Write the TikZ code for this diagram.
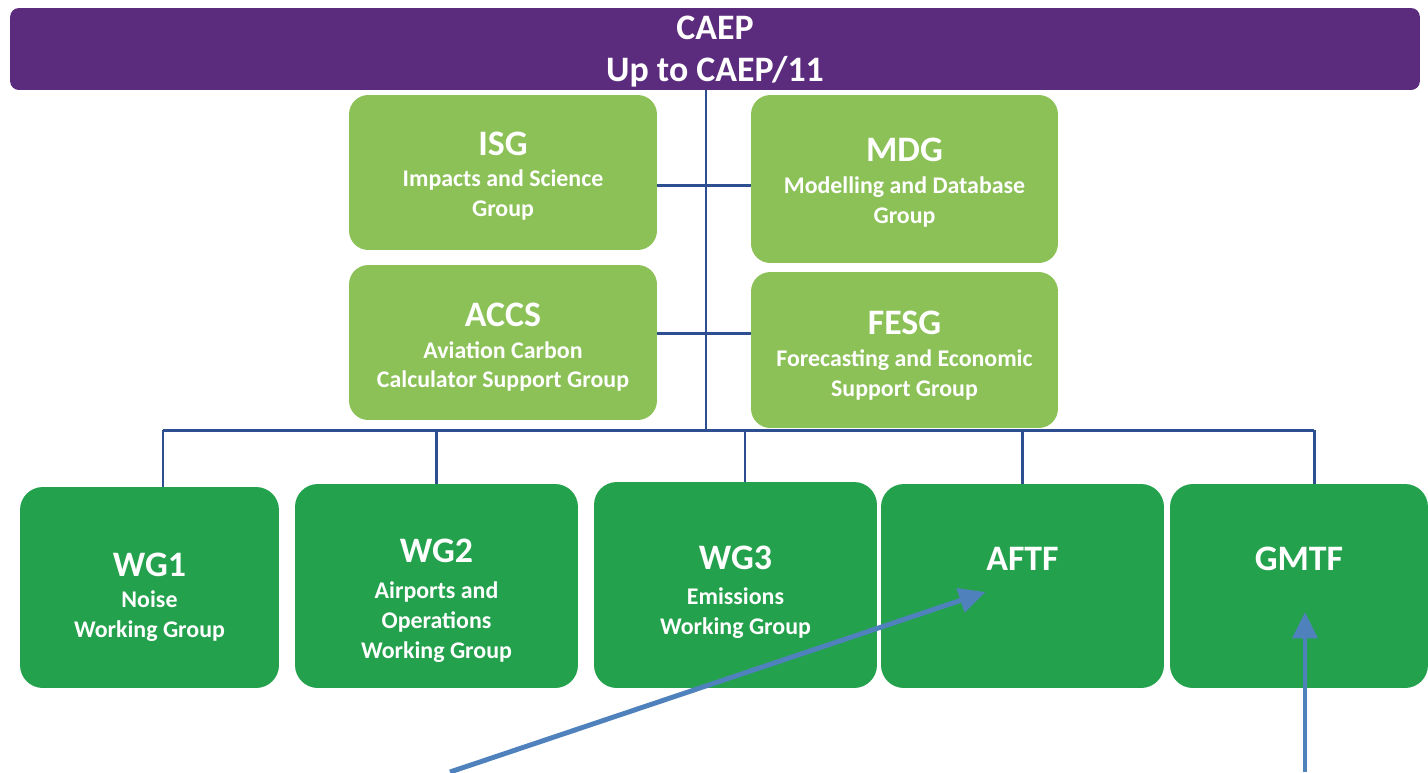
\documentclass[tikz,border=0pt]{standalone}
\usepackage{fontspec}
\setmainfont{Carlito}
\usetikzlibrary{arrows.meta}
\definecolor{caeppurple}{RGB}{91,44,125}
\definecolor{subgreen}{RGB}{139,193,87}
\definecolor{wggreen}{RGB}{36,161,77}
\definecolor{orgblue}{RGB}{46,78,146}
\definecolor{calloutblue}{RGB}{79,129,189}
% group name, with an optional strut height to push the text block down
\newcommand{\grpname}[2][0pt]{{\fontsize{20.4}{24}\selectfont\rule{0pt}{#1}#2}}
\begin{document}
\begin{tikzpicture}[x=0.02cm, y=-0.02cm,
		every node/.style = {shape=rectangle, rounded corners=11pt, inner sep=0pt,
			align=center, text=white, font=\bfseries\fontsize{13.6}{17}\selectfont},
		caepbar/.style = {fill=caeppurple, rounded corners=5pt, minimum width=28.2cm,
			minimum height=1.64cm, text depth=-0.5pt, font=\bfseries\fontsize{20.4}{24}\selectfont},
		subgroup/.style = {fill=subgreen, minimum width=6.16cm, minimum height=3.1cm},
		wgbox/.style = {fill=wggreen, rounded corners=13pt, minimum height=4.08cm},
		orgline/.style = {draw=orgblue, line width=1.7pt},
		callout/.style = {draw=calloutblue, line width=2.8pt,
			-{Triangle[length=15pt,width=14pt]}}]
		\useasboundingbox (0,0) rectangle (1428,772);
		% top bar
		\node[caepbar] (caep) at (715,49) {CAEP\\Up to CAEP/11};
		% support groups
		\node[subgroup] (isg) at (503,172.5) {\grpname[17.6pt]{ISG}\\[1pt] Impacts and Science\\ Group};
		\node[subgroup, minimum width=6.14cm, minimum height=3.36cm] (mdg) at (904.5,179)
			{\grpname[17.6pt]{MDG}\\[1pt] Modelling and Database\\ Group};
		\node[subgroup] (accs) at (503,342.5) {\grpname[18.8pt]{ACCS}\\[1pt] Aviation Carbon\\ Calculator Support Group};
		\node[subgroup, minimum width=6.14cm, minimum height=3.12cm] (fesg) at (904.5,350)
			{\grpname[19.9pt]{FESG}\\[1pt] Forecasting and Economic\\ Support Group};
		% working groups
		\node[wgbox, minimum width=5.18cm, minimum height=4.02cm] (wg1) at (149.5,587.5)
			{\grpname[24.6pt]{WG1}\\[1pt] Noise\\ Working Group};
		\node[wgbox, minimum width=5.66cm] (wg2) at (436.5,586)
			{\grpname[30pt]{WG2}\\[4pt] Airports and\\ Operations\\ Working Group};
		\node[wgbox, minimum width=5.66cm, minimum height=4.12cm] (wg3) at (735.5,585)
			{\grpname[21.3pt]{WG3}\\[3pt] Emissions\\ Working Group};
		\node[wgbox, minimum width=5.66cm, text depth=1.1cm] (aftf) at (1022.5,586) {\grpname{AFTF}};
		\node[wgbox, minimum width=5.16cm, text depth=1.1cm] (gmtf) at (1299,586) {\grpname{GMTF}};
		% connectors
		\coordinate (trunk) at (706,430);
		\coordinate (isglink) at (706,185);
		\coordinate (accslink) at (706,333);
		\draw[orgline] (caep.south -| trunk) -- (trunk);
		\draw[orgline] (isg.east |- isglink) -- (mdg.west |- isglink);
		\draw[orgline] (accs.east |- accslink) -- (fesg.west |- accslink);
		\draw[orgline] ([xshift=13.5*0.02cm]wg1.north |- trunk) -- ([xshift=15*0.02cm]gmtf.north |- trunk);
		\foreach \n/\dx in {wg1/13.5, wg2/0, wg3/9.5, aftf/0, gmtf/15}
			\draw[orgline] ([xshift=\dx*0.02cm]\n.north |- trunk) -- ([xshift=\dx*0.02cm]\n.north);
		% call-out arrows
		\coordinate (aftfsrc) at (450,772);
		\coordinate (gmtfsrc) at (1305,772);
		\draw[callout] (aftfsrc) -- ([shift={(-37,6)}]aftf.center);
		\draw[callout] (gmtfsrc) -- ([shift={(6,26)}]gmtf.center);
\end{tikzpicture}
\end{document}
